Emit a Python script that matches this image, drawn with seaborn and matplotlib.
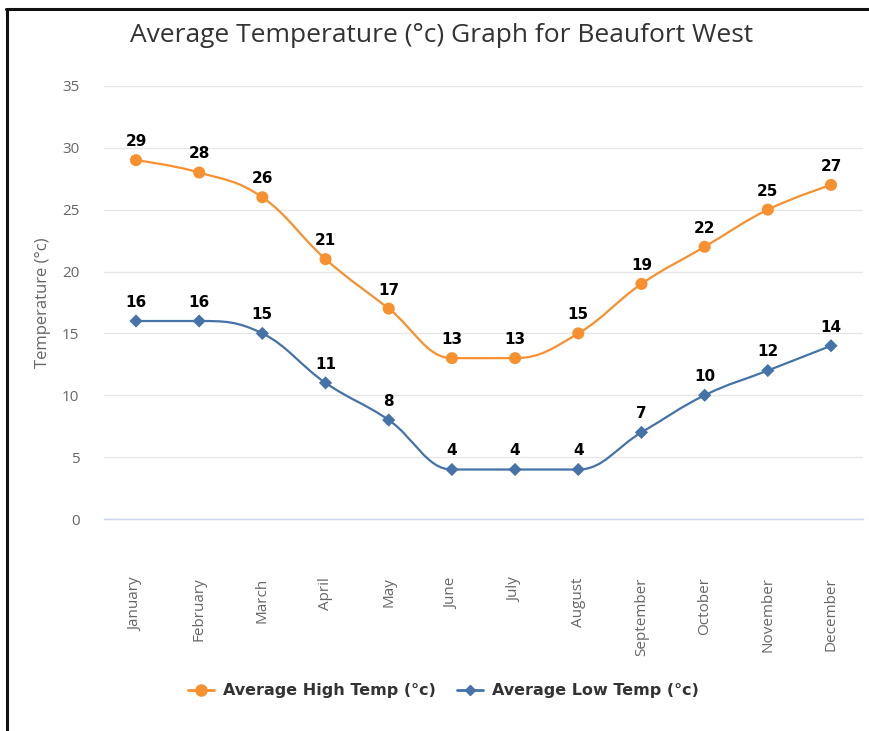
"""
Average temperature chart for Beaufort West (Highcharts-style spline look).
"""

import numpy as np
import pandas as pd
import matplotlib
matplotlib.use('Agg')
import matplotlib.pyplot as plt
from matplotlib.path import Path
from matplotlib.patches import PathPatch
from matplotlib.lines import Line2D
import seaborn as sns

months = ['January', 'February', 'March', 'April', 'May', 'June', 'July',
          'August', 'September', 'October', 'November', 'December']
high_temp = [29, 28, 26, 21, 17, 13, 13, 15, 19, 22, 25, 27]
low_temp = [16, 16, 15, 11, 8, 4, 4, 4, 7, 10, 12, 14]
series_names = ['Average High Temp (°c)', 'Average Low Temp (°c)']
y_ticks = [0, 5, 10, 15, 20, 25, 30, 35]

ORANGE = '#F7902F'
BLUE = '#4572A7'

sns.set_theme(style='white')
plt.rcParams['font.family'] = ['Open Sans', 'DejaVu Sans']


def spline_path(xs, ys, smoothing=1.5):
    """Bezier path through the points, same control-point rule as Highcharts splines."""
    denom = smoothing + 1
    n = len(xs)
    left = [None] * n
    right = [None] * n
    for i in range(n):
        x, y = xs[i], ys[i]
        if 0 < i < n - 1:
            lx, ly = xs[i - 1], ys[i - 1]
            nx, ny = xs[i + 1], ys[i + 1]
            lcx = (smoothing * x + lx) / denom
            lcy = (smoothing * y + ly) / denom
            rcx = (smoothing * x + nx) / denom
            rcy = (smoothing * y + ny) / denom
            corr = (rcy - lcy) * (rcx - x) / (rcx - lcx) + y - rcy
            lcy += corr
            rcy += corr
            if lcy > ly and lcy > y:
                lcy = max(ly, y)
                rcy = 2 * y - lcy
            elif lcy < ly and lcy < y:
                lcy = min(ly, y)
                rcy = 2 * y - lcy
            if rcy > ny and rcy > y:
                rcy = max(ny, y)
                lcy = 2 * y - rcy
            elif rcy < ny and rcy < y:
                rcy = min(ny, y)
                lcy = 2 * y - rcy
            left[i] = (lcx, lcy)
            right[i] = (rcx, rcy)
        else:
            left[i] = (x, y)
            right[i] = (x, y)
    verts = [(xs[0], ys[0])]
    codes = [Path.MOVETO]
    for i in range(1, n):
        verts += [right[i - 1], left[i], (xs[i], ys[i])]
        codes += [Path.CURVE4] * 3
    return Path(verts, codes)


x_idx = np.arange(len(months))
df = pd.DataFrame({
    'month': np.tile(x_idx, 2),
    'temp': high_temp + low_temp,
    'series': [series_names[0]] * len(months) + [series_names[1]] * len(months),
})

fig = plt.figure(figsize=(8.7, 7.31), dpi=100)
ax = fig.add_axes([0.12, 0.29, 0.8715, 0.5925])

# smooth lines
for vals, col in [(high_temp, ORANGE), (low_temp, BLUE)]:
    ax.add_patch(PathPatch(spline_path(x_idx, vals), facecolor='none',
                           edgecolor=col, lw=1.6, zorder=3))

sns.scatterplot(data=df, x='month', y='temp', hue='series', style='series',
                size='series', sizes={series_names[0]: 75, series_names[1]: 45},
                palette=[ORANGE, BLUE], markers=['o', 'D'],
                linewidth=0, ax=ax, legend=False, zorder=4)

# data labels
for vals in (high_temp, low_temp):
    for i, v in enumerate(vals):
        ax.annotate(str(v), (i, v), xytext=(0, 8), textcoords='offset points',
                    ha='center', va='bottom', fontsize=11, fontweight='bold',
                    color='black', family='DejaVu Sans')

ax.set_xlim(-0.5, len(months) - 0.5)
ax.set_ylim(0, 35)
ax.set_yticks(y_ticks)
ax.set_yticklabels([str(t) for t in y_ticks], color='#666666', fontsize=11)
ax.set_xticks(x_idx)
ax.set_xticklabels(months, rotation=90, color='#666666', fontsize=11)
ax.tick_params(axis='x', pad=42, length=0)
ax.tick_params(axis='y', pad=18, length=0)

ax.grid(axis='y', color='#E6E6E6', lw=1)
ax.set_axisbelow(True)
for s in ['top', 'right', 'left']:
    ax.spines[s].set_visible(False)
ax.spines['bottom'].set_color('#CCD6EB')
ax.spines['bottom'].set_linewidth(1)

ax.set_xlabel('')
ax.set_ylabel('Temperature (°c)', color='#666666', fontsize=12)
ax.yaxis.set_label_coords(-0.07, 0.5)

fig.text(0.508, 0.951, 'Average Temperature (°c) Graph for Beaufort West',
         ha='center', va='center', fontsize=19, color='#333333')

handles = [
    Line2D([], [], color=ORANGE, lw=2, marker='o', markersize=8),
    Line2D([], [], color=BLUE, lw=2, marker='D', markersize=5.5),
]
leg = fig.legend(handles, series_names, loc='center', bbox_to_anchor=(0.51, 0.055),
                 ncol=2, frameon=False, handlelength=1.6, columnspacing=1.3,
                 handletextpad=0.6,
                 prop={'weight': 'bold', 'size': 11.5, 'family': 'DejaVu Sans'})
for t in leg.get_texts():
    t.set_color('#333333')

# outer frame: left and top edges only
fig.add_artist(Line2D([0.008, 0.008], [0, 0.988], color='#111111', lw=2.2,
                      transform=fig.transFigure))
fig.add_artist(Line2D([0.007, 1.0], [0.988, 0.988], color='#111111', lw=2.2,
                      transform=fig.transFigure))

fig.savefig('out.png', dpi=100)
